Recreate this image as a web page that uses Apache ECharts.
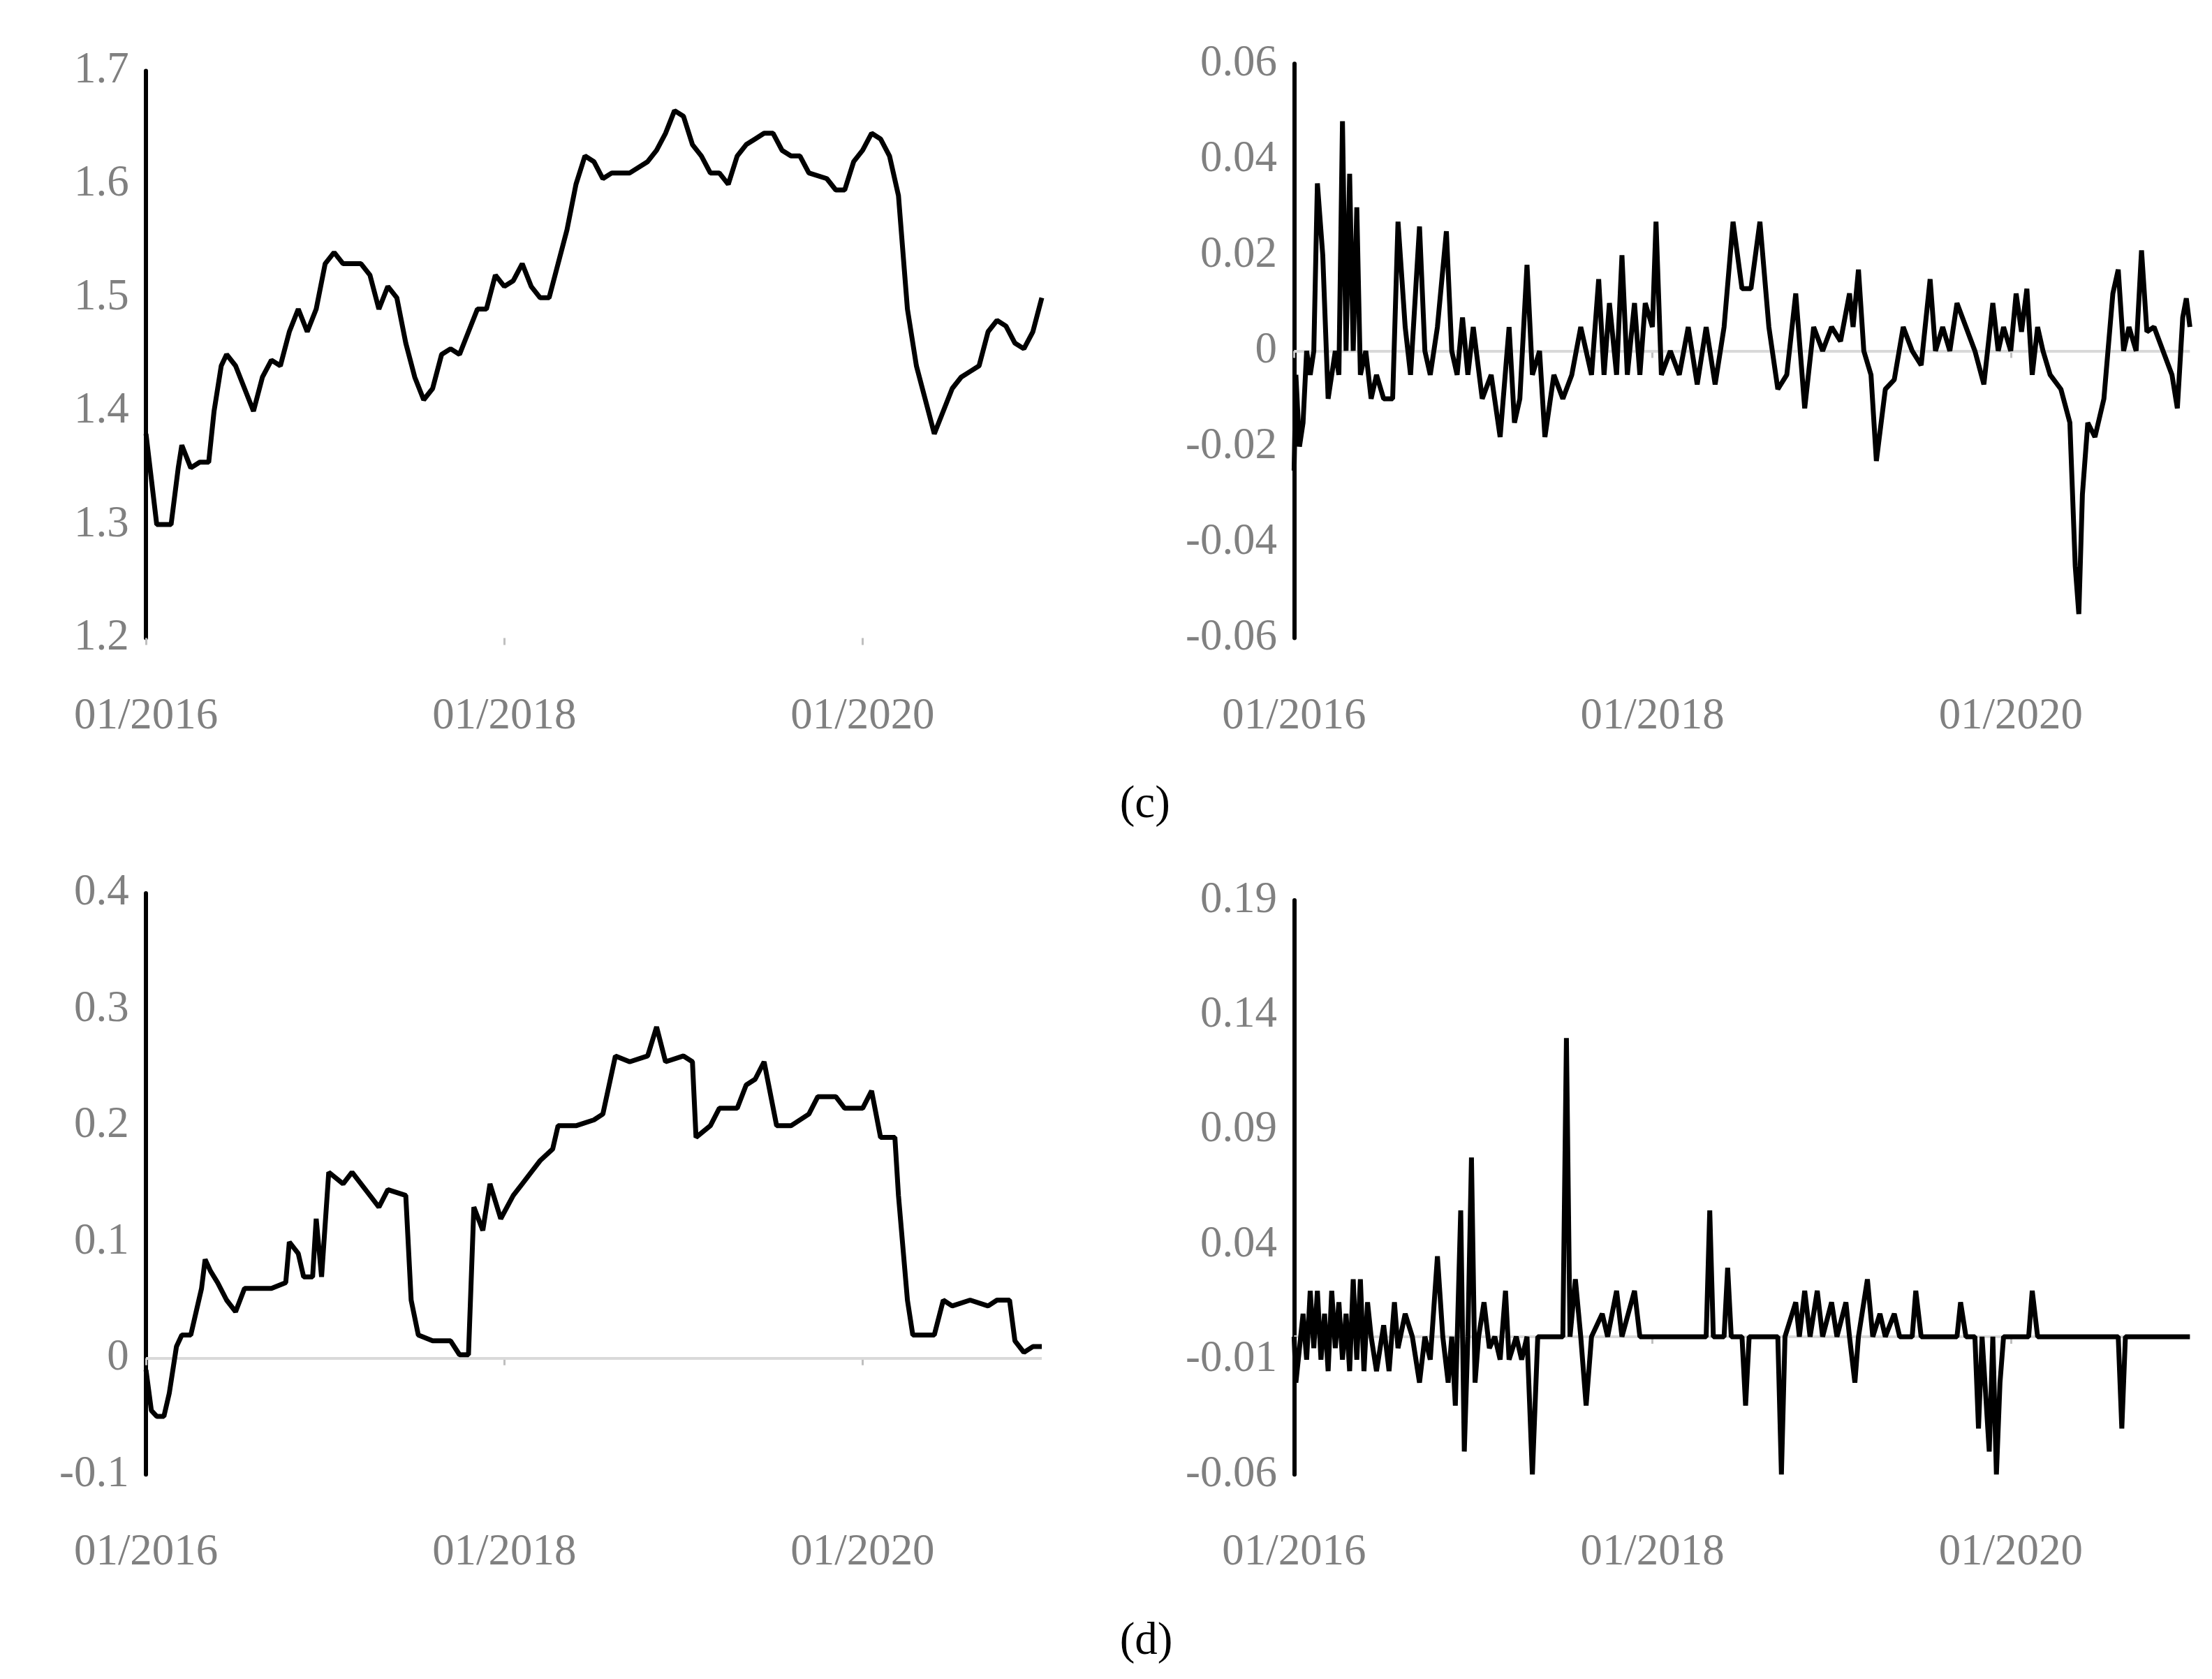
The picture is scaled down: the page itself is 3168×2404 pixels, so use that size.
<!DOCTYPE html>
<html>
<head>
<meta charset="UTF-8">
<title>Panels</title>
<script src="https://cdn.jsdelivr.net/npm/echarts@6/dist/echarts.min.js"></script>
<style>
  html, body { margin: 0; padding: 0; background: #fff; }
  #chart { width: 3168px; height: 2404px; }
</style>
</head>
<body>
<div id="chart"></div>
<script>
// [year, value] pairs
const seriesTL = [[2016.0,1.38],[2016.03,1.34],[2016.06,1.30],[2016.1,1.30],[2016.14,1.30],[2016.18,1.35],[2016.2,1.37],[2016.25,1.35],[2016.3,1.355],[2016.35,1.355],[2016.38,1.40],[2016.42,1.44],[2016.45,1.45],[2016.5,1.44],[2016.55,1.42],[2016.6,1.40],[2016.65,1.43],[2016.7,1.445],[2016.75,1.44],[2016.8,1.47],[2016.85,1.49],[2016.9,1.47],[2016.95,1.49],[2017.0,1.53],[2017.05,1.54],[2017.1,1.53],[2017.2,1.53],[2017.25,1.52],[2017.3,1.49],[2017.35,1.51],[2017.4,1.50],[2017.45,1.46],[2017.5,1.43],[2017.55,1.41],[2017.6,1.42],[2017.65,1.45],[2017.7,1.455],[2017.75,1.45],[2017.8,1.47],[2017.85,1.49],[2017.9,1.49],[2017.95,1.52],[2018.0,1.51],[2018.05,1.515],[2018.1,1.53],[2018.15,1.51],[2018.2,1.50],[2018.25,1.50],[2018.3,1.53],[2018.35,1.56],[2018.4,1.60],[2018.45,1.625],[2018.5,1.62],[2018.55,1.605],[2018.6,1.61],[2018.7,1.61],[2018.8,1.62],[2018.85,1.63],[2018.9,1.645],[2018.95,1.665],[2019.0,1.66],[2019.05,1.635],[2019.1,1.625],[2019.15,1.61],[2019.2,1.61],[2019.25,1.60],[2019.3,1.625],[2019.35,1.635],[2019.4,1.64],[2019.45,1.645],[2019.5,1.645],[2019.55,1.63],[2019.6,1.625],[2019.65,1.625],[2019.7,1.61],[2019.8,1.605],[2019.85,1.595],[2019.9,1.595],[2019.95,1.62],[2020.0,1.63],[2020.05,1.645],[2020.1,1.64],[2020.15,1.625],[2020.2,1.59],[2020.25,1.49],[2020.3,1.44],[2020.35,1.41],[2020.4,1.38],[2020.45,1.40],[2020.5,1.42],[2020.55,1.43],[2020.6,1.435],[2020.65,1.44],[2020.7,1.47],[2020.75,1.48],[2020.8,1.475],[2020.85,1.46],[2020.9,1.455],[2020.95,1.47],[2021.0,1.50]];

const seriesTR = [[2016.0,-0.025],[2016.01,-0.005],[2016.03,-0.02],[2016.05,-0.015],[2016.07,0],[2016.09,-0.005],[2016.11,0],[2016.13,0.035],[2016.16,0.02],[2016.19,-0.01],[2016.21,-0.005],[2016.23,0],[2016.25,-0.005],[2016.27,0.048],[2016.29,0],[2016.31,0.037],[2016.33,0],[2016.35,0.03],[2016.37,-0.005],[2016.4,0],[2016.43,-0.01],[2016.46,-0.005],[2016.5,-0.01],[2016.55,-0.01],[2016.58,0.027],[2016.62,0.005],[2016.65,-0.005],[2016.7,0.026],[2016.73,0],[2016.76,-0.005],[2016.8,0.005],[2016.85,0.025],[2016.88,0],[2016.91,-0.005],[2016.94,0.007],[2016.97,-0.005],[2017.0,0.005],[2017.05,-0.01],[2017.1,-0.005],[2017.15,-0.018],[2017.2,0.005],[2017.23,-0.015],[2017.26,-0.01],[2017.3,0.018],[2017.33,-0.005],[2017.37,0],[2017.4,-0.018],[2017.45,-0.005],[2017.5,-0.01],[2017.55,-0.005],[2017.6,0.005],[2017.63,0],[2017.66,-0.005],[2017.7,0.015],[2017.73,-0.005],[2017.76,0.01],[2017.8,-0.005],[2017.83,0.02],[2017.86,-0.005],[2017.9,0.01],[2017.93,-0.005],[2017.96,0.01],[2018.0,0.005],[2018.02,0.027],[2018.05,-0.005],[2018.1,0],[2018.15,-0.005],[2018.2,0.005],[2018.25,-0.007],[2018.3,0.005],[2018.35,-0.007],[2018.4,0.005],[2018.45,0.027],[2018.5,0.013],[2018.55,0.013],[2018.6,0.027],[2018.65,0.005],[2018.7,-0.008],[2018.75,-0.005],[2018.8,0.012],[2018.85,-0.012],[2018.9,0.005],[2018.95,0],[2019.0,0.005],[2019.05,0.002],[2019.1,0.012],[2019.12,0.005],[2019.15,0.017],[2019.18,0],[2019.22,-0.005],[2019.25,-0.023],[2019.3,-0.008],[2019.35,-0.006],[2019.4,0.005],[2019.45,0],[2019.5,-0.003],[2019.55,0.015],[2019.58,0],[2019.62,0.005],[2019.66,0],[2019.7,0.01],[2019.75,0.005],[2019.8,0],[2019.85,-0.007],[2019.9,0.01],[2019.93,0],[2019.96,0.005],[2020.0,0],[2020.03,0.012],[2020.06,0.004],[2020.09,0.013],[2020.12,-0.005],[2020.15,0.005],[2020.18,0],[2020.22,-0.005],[2020.28,-0.008],[2020.33,-0.015],[2020.36,-0.045],[2020.38,-0.055],[2020.4,-0.03],[2020.43,-0.015],[2020.47,-0.018],[2020.52,-0.01],[2020.57,0.012],[2020.6,0.017],[2020.63,0],[2020.66,0.005],[2020.7,0],[2020.73,0.021],[2020.76,0.004],[2020.8,0.005],[2020.85,0],[2020.9,-0.005],[2020.93,-0.012],[2020.96,0.007],[2020.98,0.011],[2021.0,0.005]];

const seriesBL = [[2016.0,-0.01],[2016.03,-0.045],[2016.06,-0.05],[2016.1,-0.05],[2016.13,-0.03],[2016.17,0.01],[2016.2,0.02],[2016.25,0.02],[2016.28,0.04],[2016.31,0.06],[2016.33,0.085],[2016.36,0.075],[2016.4,0.065],[2016.45,0.05],[2016.5,0.04],[2016.55,0.06],[2016.65,0.06],[2016.7,0.06],[2016.78,0.065],[2016.8,0.1],[2016.85,0.09],[2016.88,0.07],[2016.93,0.07],[2016.95,0.12],[2016.98,0.07],[2017.02,0.16],[2017.1,0.15],[2017.15,0.16],[2017.25,0.14],[2017.3,0.13],[2017.35,0.145],[2017.45,0.14],[2017.48,0.05],[2017.52,0.02],[2017.6,0.015],[2017.7,0.015],[2017.75,0.003],[2017.8,0.003],[2017.83,0.13],[2017.88,0.11],[2017.92,0.15],[2017.98,0.12],[2018.05,0.14],[2018.1,0.15],[2018.15,0.16],[2018.2,0.17],[2018.27,0.18],[2018.3,0.2],[2018.4,0.2],[2018.5,0.205],[2018.55,0.21],[2018.62,0.26],[2018.7,0.255],[2018.8,0.26],[2018.85,0.285],[2018.9,0.255],[2019.0,0.26],[2019.05,0.255],[2019.07,0.19],[2019.15,0.2],[2019.2,0.215],[2019.3,0.215],[2019.35,0.235],[2019.4,0.24],[2019.45,0.255],[2019.52,0.2],[2019.6,0.2],[2019.7,0.21],[2019.75,0.225],[2019.85,0.225],[2019.9,0.215],[2020.0,0.215],[2020.05,0.23],[2020.1,0.19],[2020.18,0.19],[2020.2,0.14],[2020.25,0.05],[2020.28,0.02],[2020.4,0.02],[2020.45,0.05],[2020.5,0.045],[2020.6,0.05],[2020.7,0.045],[2020.75,0.05],[2020.82,0.05],[2020.85,0.015],[2020.9,0.005],[2020.95,0.01],[2021.0,0.01]];

const seriesBR = [[2016.0,0],[2016.01,-0.02],[2016.03,-0.005],[2016.05,0.01],[2016.07,-0.01],[2016.09,0.02],[2016.11,-0.005],[2016.13,0.02],[2016.15,-0.01],[2016.17,0.01],[2016.19,-0.015],[2016.21,0.02],[2016.23,-0.005],[2016.25,0.015],[2016.27,-0.01],[2016.29,0.01],[2016.31,-0.015],[2016.33,0.025],[2016.35,-0.01],[2016.37,0.025],[2016.39,-0.015],[2016.41,0.015],[2016.43,0],[2016.46,-0.015],[2016.5,0.005],[2016.53,-0.015],[2016.56,0.015],[2016.58,-0.005],[2016.62,0.01],[2016.66,0],[2016.7,-0.02],[2016.73,0],[2016.76,-0.01],[2016.8,0.035],[2016.83,0],[2016.86,-0.02],[2016.88,0],[2016.9,-0.03],[2016.93,0.055],[2016.95,-0.05],[2016.97,0],[2016.99,0.078],[2017.01,-0.02],[2017.03,0],[2017.06,0.015],[2017.09,-0.005],[2017.12,0],[2017.15,-0.01],[2017.18,0.02],[2017.2,-0.01],[2017.24,0],[2017.27,-0.01],[2017.3,0],[2017.33,-0.06],[2017.36,0],[2017.5,0],[2017.52,0.13],[2017.54,0],[2017.57,0.025],[2017.6,0],[2017.63,-0.03],[2017.66,0],[2017.72,0.01],[2017.75,0],[2017.8,0.02],[2017.83,0],[2017.9,0.02],[2017.93,0],[2018.0,0],[2018.3,0],[2018.32,0.055],[2018.34,0],[2018.4,0],[2018.42,0.03],[2018.44,0],[2018.5,0],[2018.52,-0.03],[2018.54,0],[2018.7,0],[2018.72,-0.06],[2018.74,0],[2018.8,0.015],[2018.82,0],[2018.85,0.02],[2018.88,0],[2018.92,0.02],[2018.95,0],[2019.0,0.015],[2019.03,0],[2019.08,0.015],[2019.1,0],[2019.13,-0.02],[2019.15,0],[2019.2,0.025],[2019.23,0],[2019.27,0.01],[2019.3,0],[2019.35,0.01],[2019.38,0],[2019.45,0],[2019.47,0.02],[2019.5,0],[2019.7,0],[2019.72,0.015],[2019.75,0],[2019.8,0],[2019.82,-0.04],[2019.84,0],[2019.88,-0.05],[2019.9,0],[2019.92,-0.06],[2019.94,-0.02],[2019.96,0],[2020.1,0],[2020.12,0.02],[2020.15,0],[2020.6,0],[2020.62,-0.04],[2020.64,0],[2021.0,0]];

const yearTicks = { min: 2016, max: 2021, interval: 2 };

const S = 2.03;
const font = 'Liberation Serif';
const grey = '#808080';

function panel(i, left, top, height, ymin, ymax, yint, decimals) {
  return {
    grid: { left: left * S, top: top * S, width: 632 * S, height: height * S, outerBoundsMode: 'none' },
    xAxis: {
      type: 'value', gridIndex: i, min: yearTicks.min, max: yearTicks.max, interval: yearTicks.interval,
      axisLine: { show: false },
      axisTick: { show: true, length: 10, lineStyle: { color: '#bfbfbf', width: 3 } },
      splitLine: { show: false },
      axisLabel: { color: grey, fontFamily: font, fontSize: 31 * S, margin: 40 * S,
        showMaxLabel: false, formatter: v => (v % 2 === 0 ? '01/' + v : '') }
    },
    yAxis: {
      type: 'value', gridIndex: i, min: ymin, max: ymax, interval: yint,
      axisLine: { show: true, lineStyle: { color: '#000', width: 6 } },
      axisTick: { show: false },
      splitLine: { show: false },
      axisLabel: { color: grey, fontFamily: font, fontSize: 31 * S, margin: 12 * S,
        formatter: v => (Math.abs(v) < 1e-9 ? '0' : v.toFixed(decimals).replace(/\.?0+$/, '')) }
    }
  };
}

const panels = [
  panel(0, 103, 50, 400, 1.2, 1.7, 0.1, 1),
  panel(1, 913, 45, 405, -0.06, 0.06, 0.02, 2),
  panel(2, 103, 630, 410, -0.1, 0.4, 0.1, 1),
  panel(3, 913, 635, 405, -0.06, 0.19, 0.05, 2)
];

const datasets = [seriesTL, seriesTR, seriesBL, seriesBR];

const option = {
  backgroundColor: '#fff',
  animation: false,
  grid: panels.map(p => p.grid),
  xAxis: panels.map(p => p.xAxis),
  yAxis: panels.map(p => p.yAxis),
  series: datasets.map((d, i) => ({
    type: 'line', xAxisIndex: i, yAxisIndex: i, data: d,
    showSymbol: false, lineStyle: { color: '#000', width: 7 },
    markLine: i === 0 ? undefined : {
      silent: true, symbol: 'none', label: { show: false },
      lineStyle: { color: '#d9d9d9', width: 4, type: 'solid' },
      data: [{ yAxis: 0 }], z: 1
    }
  })),
  graphic: [
    { type: 'text', left: 790 * S, top: 552 * S,
      style: { text: '(c)', font: (32 * S) + 'px "' + font + '"', fill: '#000' } },
    { type: 'text', left: 790 * S, top: 1142 * S,
      style: { text: '(d)', font: (32 * S) + 'px "' + font + '"', fill: '#000' } }
  ]
};

echarts.init(document.getElementById('chart')).setOption(option);
</script>
</body>
</html>
